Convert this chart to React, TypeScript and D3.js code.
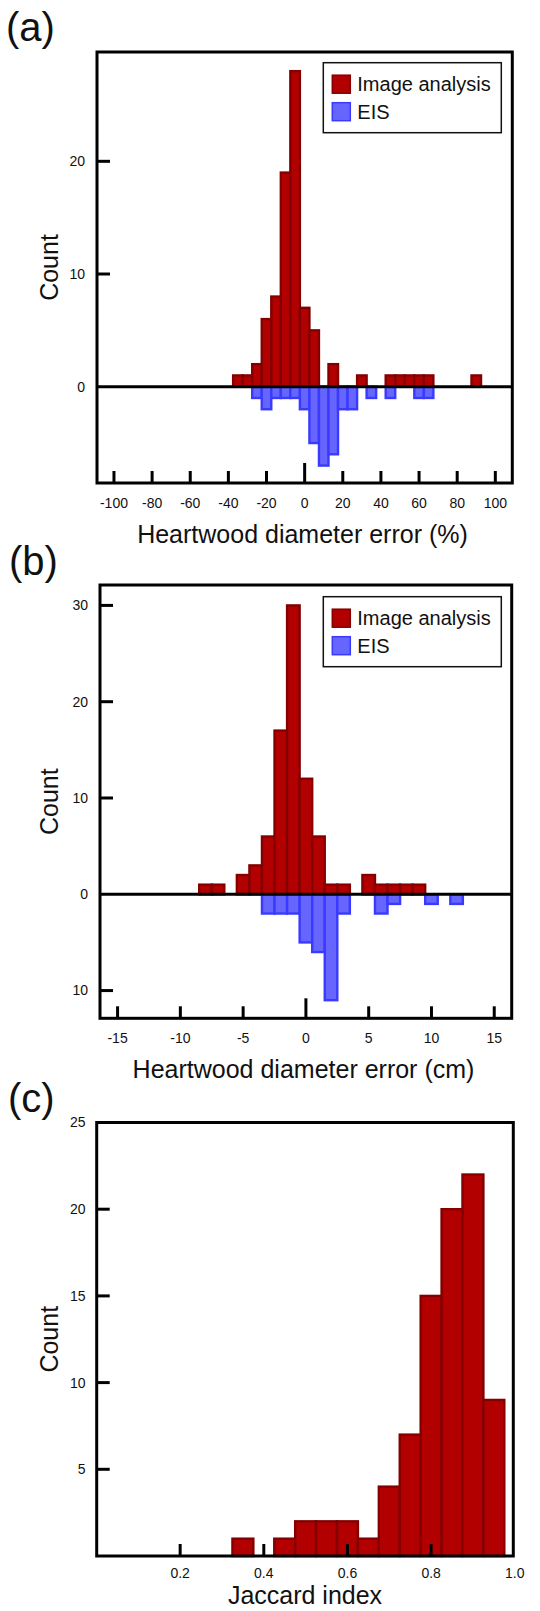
import React from 'react';
import * as d3 from 'd3';

const FONT = '"Liberation Sans", Arial, Helvetica, sans-serif';
const RED_FILL = '#b20000';
const RED_STROKE = '#840000';
const BLUE_FILL = '#6666ff';
const BLUE_STROKE = '#3a3aff';

// ---------- Panel (a): heartwood diameter error (%) ----------
const aBinCenters = [-35, -30, -25, -20, -15, -10, -5, 0, 5, 10, 15, 20, 25, 30, 35, 40, 45, 50, 55, 60, 65, 70, 75, 80, 85, 90];
const aImage = [1, 1, 2, 6, 8, 19, 28, 7, 5, 0, 2, 0, 0, 1, 0, 0, 1, 1, 1, 1, 1, 0, 0, 0, 0, 1];
const aEIS = [0, 0, 1, 2, 1, 1, 1, 2, 5, 7, 6, 2, 2, 0, 1, 0, 1, 0, 0, 1, 1, 0, 0, 0, 0, 0];
const aXTicks = [-100, -80, -60, -40, -20, 0, 20, 40, 60, 80, 100];
const aYTicks = [10, 20];
const aYLabels = [0, 10, 20];

// ---------- Panel (b): heartwood diameter error (cm) ----------
const bBinCenters = [-8, -7, -6, -5, -4, -3, -2, -1, 0, 1, 2, 3, 4, 5, 6, 7, 8, 9, 10, 11, 12];
const bImage = [1, 1, 0, 2, 3, 6, 17, 30, 12, 6, 1, 1, 0, 2, 1, 1, 1, 1, 0, 0, 0];
const bEIS = [0, 0, 0, 0, 0, 2, 2, 2, 5, 6, 11, 2, 0, 0, 2, 1, 0, 0, 1, 0, 1];
const bXTicks = [-15, -10, -5, 0, 5, 10, 15];
const bYTicks = [-10, 10, 20, 30];
const bYLabels = [-10, 0, 10, 20, 30];

// ---------- Panel (c): Jaccard index ----------
const cBinCenters = [0.35, 0.4, 0.45, 0.5, 0.55, 0.6, 0.65, 0.7, 0.75, 0.8, 0.85, 0.9, 0.95];
const cCounts = [1, 0, 1, 2, 2, 2, 1, 4, 7, 15, 20, 22, 9];
const cXTicks = [0.2, 0.4, 0.6, 0.8];
const cXLabels = [0.2, 0.4, 0.6, 0.8, 1.0];
const cYTicks = [5, 10, 15, 20];
const cYLabels = [5, 10, 15, 20, 25];

type Frame = { left: number; right: number; top: number; bottom: number };

function Bars({ centers, values, width, x, y, fill, stroke, down }: any) {
  return (
    <g>
      {centers.map((c: number, i: number) => {
        const v = values[i];
        if (!v) return null;
        const x0 = x(c - width / 2);
        const x1 = x(c + width / 2);
        const yv = y(down ? -v : v);
        const y0 = y(0);
        return (
          <rect
            key={i}
            x={x0}
            y={Math.min(yv, y0)}
            width={x1 - x0}
            height={Math.abs(yv - y0)}
            fill={fill}
            stroke={stroke}
            strokeWidth={2.4}
          />
        );
      })}
    </g>
  );
}

function Legend({ left, top }: { left: number; top: number }) {
  return (
    <g>
      <rect x={left} y={top} width={178} height={70} fill="white" stroke="#111" strokeWidth={1.5} />
      <rect x={left + 9} y={top + 12.5} width={18} height={18} fill={RED_FILL} stroke={RED_STROKE} strokeWidth={1.5} />
      <rect x={left + 9} y={top + 40} width={18} height={18} fill={BLUE_FILL} stroke={BLUE_STROKE} strokeWidth={1.5} />
      <text x={left + 34} y={top + 21.5} dy="0.35em" fontSize={20} fontFamily={FONT} fill="#111">Image analysis</text>
      <text x={left + 34} y={top + 49} dy="0.35em" fontSize={20} fontFamily={FONT} fill="#111">EIS</text>
    </g>
  );
}

function Axes({ f, x, y, xTicks, xLabels, yTicks, yLabels, xLabelY, labelRight, zeroLine, longZero, fmtX }: any) {
  return (
    <g>
      <rect x={f.left} y={f.top} width={f.right - f.left} height={f.bottom - f.top} fill="none" stroke="#000" strokeWidth={3} />
      {zeroLine && (
        <line x1={f.left} x2={f.right} y1={y(0)} y2={y(0)} stroke="#000" strokeWidth={3} />
      )}
      {yTicks.map((t: number) => (
        <line key={'yt' + t} x1={f.left} x2={f.left + 13} y1={y(t)} y2={y(t)} stroke="#000" strokeWidth={3} />
      ))}
      {yLabels.map((t: number) => (
        <text key={'yl' + t} x={labelRight} y={y(t)} dy="0.35em" textAnchor="end" fontSize={14} fontFamily={FONT} fill="#111">
          {Math.abs(t)}
        </text>
      ))}
      {xTicks.map((t: number) => (
        <line
          key={'xt' + t}
          x1={x(t)}
          x2={x(t)}
          y1={f.bottom}
          y2={f.bottom - (longZero && t === 0 ? 20 : 12)}
          stroke="#000"
          strokeWidth={3}
        />
      ))}
      {xLabels.map((t: number) => (
        <text key={'xl' + t} x={x(t)} y={xLabelY} textAnchor="middle" fontSize={14} fontFamily={FONT} fill="#111">
          {fmtX ? fmtX(t) : String(t)}
        </text>
      ))}
    </g>
  );
}

export default function App() {
  // Panel (a)
  const fa: Frame = { left: 97, right: 512.3, top: 52, bottom: 483 };
  const xa = d3.scaleLinear().domain([-108.9, 108.9]).range([fa.left, fa.right]);
  const ya = d3.scaleLinear().domain([-8.545, 29.7]).range([fa.bottom, fa.top]);

  // Panel (b)
  const fb: Frame = { left: 100, right: 511.7, top: 585, bottom: 1018.3 };
  const xb = d3.scaleLinear().domain([-16.4, 16.39]).range([fb.left, fb.right]);
  const yb = d3.scaleLinear().domain([-12.88, 32.12]).range([fb.bottom, fb.top]);

  // Panel (c)
  const fc: Frame = { left: 96.7, right: 513.3, top: 1122.5, bottom: 1556 };
  const xc = d3.scaleLinear().domain([0, 0.9965]).range([96.5, 513.3]);
  const yc = d3.scaleLinear().domain([0, 25]).range([fc.bottom, fc.top]);

  const fmt1 = d3.format('.1f');

  return (
    <svg width={540} height={1611} style={{ position: 'absolute', left: 0, top: 0, background: 'white' }}>
      <rect x={0} y={0} width={540} height={1611} fill="white" />

      {/* (a) */}
      <text x={6} y={41} fontSize={40} fontFamily={FONT} fill="#111">(a)</text>
      <Bars centers={aBinCenters} values={aImage} width={5} x={xa} y={ya} fill={RED_FILL} stroke={RED_STROKE} />
      <Bars centers={aBinCenters} values={aEIS} width={5} x={xa} y={ya} fill={BLUE_FILL} stroke={BLUE_STROKE} down />
      <Axes f={fa} x={xa} y={ya} xTicks={aXTicks} xLabels={aXTicks} yTicks={aYTicks} yLabels={aYLabels}
        xLabelY={508} labelRight={85} zeroLine longZero />
      <Legend left={323.3} top={62.7} />
      <text x={302.5} y={543} textAnchor="middle" fontSize={25} fontFamily={FONT} fill="#111">Heartwood diameter error (%)</text>
      <text transform={`translate(58,${(fa.top + fa.bottom) / 2}) rotate(-90)`} textAnchor="middle" fontSize={25} fontFamily={FONT} fill="#111">Count</text>

      {/* (b) */}
      <text x={9} y={575} fontSize={40} fontFamily={FONT} fill="#111">(b)</text>
      <Bars centers={bBinCenters} values={bImage} width={1} x={xb} y={yb} fill={RED_FILL} stroke={RED_STROKE} />
      <Bars centers={bBinCenters} values={bEIS} width={1} x={xb} y={yb} fill={BLUE_FILL} stroke={BLUE_STROKE} down />
      <Axes f={fb} x={xb} y={yb} xTicks={bXTicks} xLabels={bXTicks} yTicks={bYTicks} yLabels={bYLabels}
        xLabelY={1042.5} labelRight={88} zeroLine longZero />
      <Legend left={323.3} top={596.7} />
      <text x={303.5} y={1077.5} textAnchor="middle" fontSize={25} fontFamily={FONT} fill="#111">Heartwood diameter error (cm)</text>
      <text transform={`translate(58,${(fb.top + fb.bottom) / 2}) rotate(-90)`} textAnchor="middle" fontSize={25} fontFamily={FONT} fill="#111">Count</text>

      {/* (c) */}
      <text x={8} y={1111.5} fontSize={40} fontFamily={FONT} fill="#111">(c)</text>
      <Bars centers={cBinCenters} values={cCounts} width={0.05} x={xc} y={yc} fill={RED_FILL} stroke={RED_STROKE} />
      <Axes f={fc} x={xc} y={yc} xTicks={cXTicks} xLabels={cXLabels} yTicks={cYTicks} yLabels={cYLabels}
        xLabelY={1578} labelRight={85.5} fmtX={fmt1} />
      <text x={305} y={1604} textAnchor="middle" fontSize={25} fontFamily={FONT} fill="#111">Jaccard index</text>
      <text transform={`translate(58,${(fc.top + fc.bottom) / 2}) rotate(-90)`} textAnchor="middle" fontSize={25} fontFamily={FONT} fill="#111">Count</text>
    </svg>
  );
}
